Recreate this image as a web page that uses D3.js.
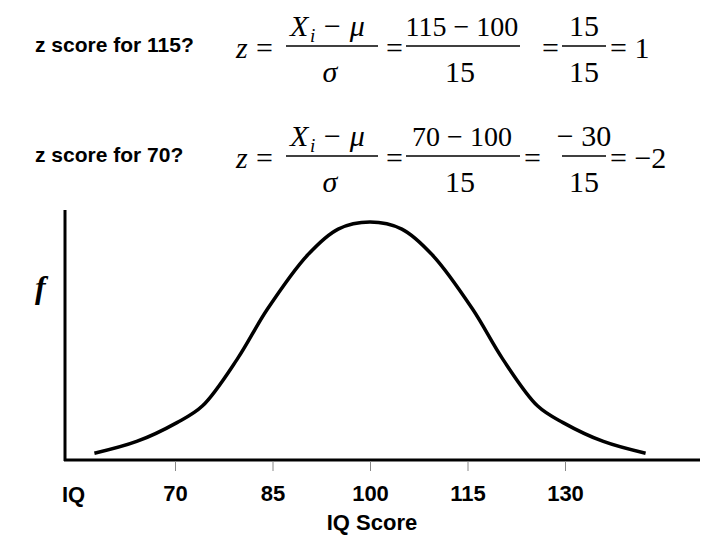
<!DOCTYPE html><html><head><meta charset="utf-8"><script src="https://cdn.jsdelivr.net/npm/d3@7"></script>
<style>body{margin:0;background:#fff}</style></head><body><svg id="c" width="720" height="540"></svg>
<script>
const tickValues=[70,85,100,115,130];
const tickLabels=["70","85","100","115","130"];
const curveIQ=[57.6,64.1,70.3,74.2,79.6,84.2,90.4,95.1,100,104.9,109.6,115.8,120.4,125.8,129.7,135.9,142.4];
const curveF=[0.02,0.07,0.15,0.22,0.42,0.63,0.86,0.97,1.0,0.97,0.86,0.63,0.42,0.22,0.15,0.07,0.02];
const svg=d3.select("#c");
const x=d3.scaleLinear().domain([70,130]).range([175,565]);
const y=d3.scaleLinear().domain([0,1]).range([458,222]);
svg.append("line").attr("x1",65).attr("x2",65).attr("y1",210).attr("y2",461).attr("stroke","#000").attr("stroke-width",3);
svg.append("line").attr("x1",64).attr("x2",700).attr("y1",460).attr("y2",460).attr("stroke","#000").attr("stroke-width",3);
const ax=d3.axisBottom(x).tickValues(tickValues).tickFormat((d,i)=>tickLabels[i]).tickSize(10).tickPadding(14);
const g=svg.append("g").attr("transform","translate(0,461)").call(ax);
g.select(".domain").remove();
g.selectAll("line").attr("stroke","#888");
g.attr("font-size",null).attr("font-family",null);
g.selectAll("text").style("font-family","Liberation Sans, Arial").style("font-size","22px").style("font-weight","bold").attr("fill","#000");
const S=(t,xx,yy,a,fs)=>svg.append("text").attr("x",xx).attr("y",yy).text(t).attr("text-anchor",a||"start").style("font-family","Liberation Sans").style("font-size",(fs||22)+"px").style("font-weight","bold");
S("IQ",62,502); S("IQ Score",372,530,"middle");
svg.append("text").attr("x",35).attr("y",298).text("f").attr("font-family","Liberation Serif").attr("font-style","italic").attr("font-weight","bold").attr("font-size",32);
const line=d3.line().x((d,i)=>x(curveIQ[i])).y(d=>y(d)).curve(d3.curveCatmullRom);
svg.append("path").attr("d",line(curveF)).attr("fill","none").attr("stroke","#000").attr("stroke-width",3.5);
function row(dy,q,num,den,e2,r1n,r1d,res){
  const T=(t,xx,yy,opt={})=>svg.append("text").attr("x",xx).attr("y",yy+dy).text(t).attr("font-family","Liberation Serif").style("font-size",(opt.fs||30)+"px").attr("font-style",opt.it?"italic":null).attr("text-anchor",opt.a||"start");
  const L=(a,b,yy)=>svg.append("line").attr("x1",a).attr("x2",b).attr("y1",yy+dy).attr("y2",yy+dy).attr("stroke","#000").attr("stroke-width",1.3);
  S(q,35,52+dy,null,21);
  T("z",236,58,{it:1}); T("=",256,58);
  T("X",290,36,{it:1}); T("i",310,42,{it:1,fs:19}); T("− μ",322,36,{it:1});
  L(286,378,46); T("σ",330,82,{it:1,a:"middle"});
  T("=",386,58);
  T(num,462,36,{a:"middle",fs:28}); L(406,520,46); T(den,460,82,{a:"middle"});
  T("=",e2,58);
  T(r1n,584,36,{a:"middle"}); L(562,606,46); T(r1d,584,82,{a:"middle"});
  T("= "+res,610,58);
}
row(0,"z score for 115?","115 − 100","15",542,"15","15","1");
row(110,"z score for 70?","70 − 100","15",524,"− 30","15","−2");
</script></body></html>
